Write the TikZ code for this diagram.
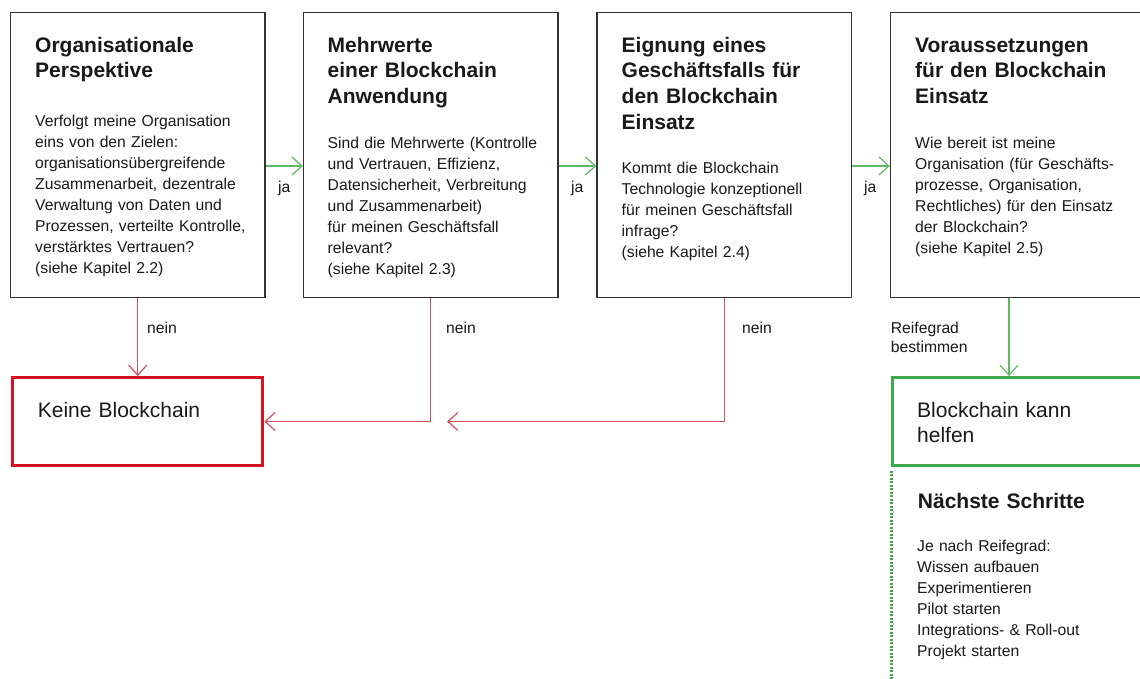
\documentclass[tikz,border=0pt]{standalone}
\usepackage{fontspec}
\setmainfont{Liberation Sans}
\usetikzlibrary{arrows.meta}
\definecolor{frame}{RGB}{50,50,50}
\definecolor{gline}{RGB}{95,185,100}
\definecolor{gbox}{RGB}{60,170,75}
\definecolor{rbox}{RGB}{215,18,35}
\definecolor{rline}{RGB}{218,80,95}
\definecolor{ink}{RGB}{25,25,25}
\newcommand\bodyf{\fontsize{15.7}{21}\selectfont}
\newcommand\titlef{\fontsize{21}{25.8}\selectfont\bfseries}
\newcommand\bigf{\fontsize{21}{25.5}\selectfont}
\newcommand\lblf{\fontsize{15.7}{19.5}\selectfont}
\begin{document}
\begin{tikzpicture}[x=1pt,y=-1pt,
  qbox/.style={draw=frame, line width=1.3pt, inner sep=0pt, minimum width=254.5pt, minimum height=285pt},
  redbox/.style={draw=rbox, line width=3.3pt, inner sep=0pt, minimum width=250pt, minimum height=87.6pt},
  greenbox/.style={draw=gbox, line width=3.3pt, inner sep=0pt, minimum width=257.7pt, minimum height=87.6pt},
  tip/.style={-{Straight Barb[length=10pt,width=18pt]}},
  garr/.style={tip, draw=gline, line width=1.2pt},
  rarr/.style={tip, draw=rline, line width=1.2pt},
  dotline/.style={draw=gbox, line width=2.4pt, line cap=butt, dash pattern=on 2pt off 1.5pt},
  ttl/.style={inner sep=0pt, anchor=base west, align=left, text width=240pt, font=\titlef, text=ink},
  body/.style={inner sep=0pt, anchor=base west, align=left, text width=240pt, font=\bodyf, text=ink},
  lbl/.style={inner sep=0pt, anchor=base west, align=left, text width=100pt, font=\lblf, text=ink},
  big/.style={inner sep=0pt, anchor=base west, align=left, text width=220pt, font=\bigf, text=ink}
]
\useasboundingbox (0,0) rectangle (1140,678);
\clip (0,0) rectangle (1140,678);
\fill[white] (0,0) rectangle (1140,678);

% main boxes
\node[qbox] (b1) at (137.75,155) {};
\node[qbox] (b2) at (430.75,155) {};
\node[qbox] (b3) at (724.25,155) {};
\node[qbox] (b4) at (1017.75,155) {};

% result boxes
\node[redbox] (kb) at (137.6,421.5) {};
\node[greenbox] (hb) at (1021.15,421.5) {};

\coordinate (c3) at (447,421.5);
\coordinate (bottom) at (0,685);

% texts in boxes
\node[ttl] (t1) at (35,52) {Organisationale\\Perspektive};
\node[body] (d1) at (35,126) {Verfolgt meine Organisation\\eins von den Zielen:\\organisationsübergreifende\\Zusammenarbeit, dezentrale\\Verwaltung von Daten und\\Prozessen, verteilte Kontrolle,\\verstärktes Vertrauen?\\(siehe Kapitel 2.2)};

\node[ttl] (t2) at (327.5,52) {Mehrwerte\\einer Blockchain\\Anwendung};
\node[body] (d2) at (327.5,148) {Sind die Mehrwerte (Kontrolle\\und Vertrauen, Effizienz,\\Datensicherheit, Verbreitung\\und Zusammenarbeit)\\für meinen Geschäftsfall\\relevant?\\(siehe Kapitel 2.3)};

\node[ttl] (t3) at (621.5,52) {Eignung eines\\Geschäftsfalls für\\den Blockchain\\Einsatz};
\node[body] (d3) at (621.5,173) {Kommt die Blockchain\\Technologie konzeptionell\\für meinen Geschäftsfall\\infrage?\\(siehe Kapitel 2.4)};

\node[ttl] (t4) at (915,52) {Voraussetzungen\\für den Blockchain\\Einsatz};
\node[body] (d4) at (915,148) {Wie bereit ist meine\\Organisation (für Geschäfts-\\prozesse, Organisation,\\Rechtliches) für den Einsatz\\der Blockchain?\\(siehe Kapitel 2.5)};

\node[big] (kt) at (37.7,417) {Keine Blockchain};
\node[big] (ht) at (917,417) {Blockchain kann\\helfen};

\node[ttl, text width=220pt] (ns) at (917.7,508) {Nächste Schritte};
\node[body, text width=220pt] (nl) at (917,551) {Je nach Reifegrad:\\Wissen aufbauen\\Experimentieren\\Pilot starten\\Integrations- \& Roll-out\\Projekt starten};

% connectors
\draw[garr] ([yshift=-11pt]b1.east) -- ([yshift=-11pt]b2.west);
\draw[garr] ([yshift=-11pt]b2.east) -- ([yshift=-11pt]b3.west);
\draw[garr] ([yshift=-11pt]b3.east) -- ([yshift=-11pt]b4.west);

\draw[rarr] (b1.south) -- (b1.south |- kb.north);
\draw[rarr] (b2.south) |- (kb.east);
\draw[rarr] (b3.south) |- (c3);
\draw[garr] ([xshift=-8.75pt]b4.south) -- ([xshift=-8.75pt]b4.south |- hb.north);

\draw[dotline] ([xshift=1pt,yshift=-4pt]hb.south west) -- ([xshift=1pt]hb.south west |- bottom);

% labels
\node[lbl] (ja1) at (278,192) {ja};
\node[lbl] (ja2) at (571,192) {ja};
\node[lbl] (ja3) at (864,192) {ja};
\node[lbl] (n1) at (147,333) {nein};
\node[lbl] (n2) at (446,333) {nein};
\node[lbl] (n3) at (742,333) {nein};
\node[lbl] (rb) at (890.7,333) {Reifegrad\\bestimmen};
\end{tikzpicture}
\end{document}
